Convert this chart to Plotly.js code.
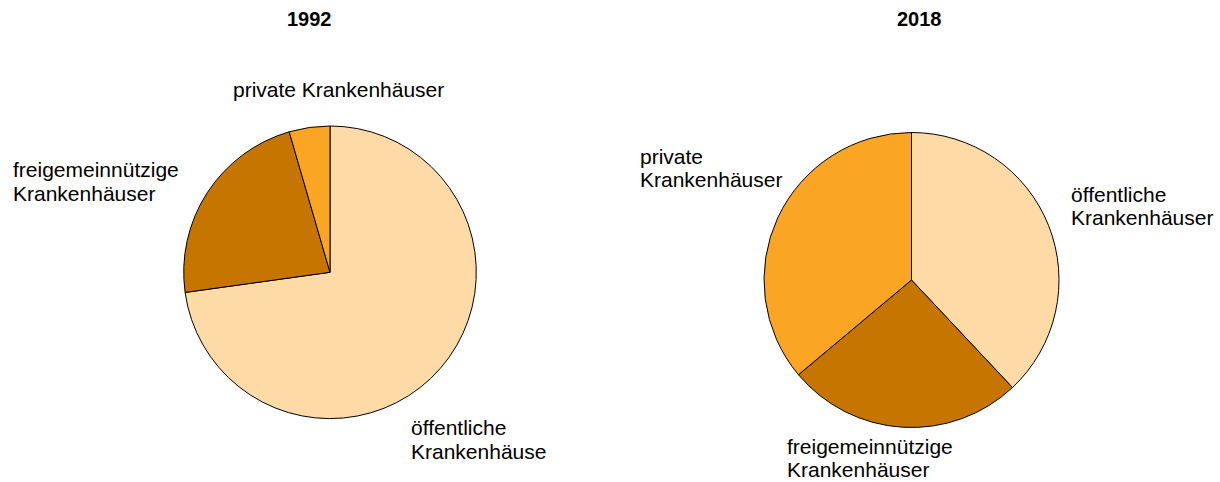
<!DOCTYPE html>
<html>
<head>
<meta charset="utf-8">
<script src="https://cdn.plot.ly/plotly-3.0.1.min.js"></script>
<style>html,body{margin:0;padding:0;background:#fff;}#chart{width:1220px;height:482px;}</style>
</head>
<body>
<div id="chart"></div>
<script>
// Data
const categories = ["öffentliche Krankenhäuser", "freigemeinnützige Krankenhäuser", "private Krankenhäuser"];
const values1992 = [72.8, 22.7, 4.5];
const values2018 = [38.0, 25.9, 36.1];
const years = ["1992", "2018"];
// label lines as shown in the chart
const labelLines1992 = [["öffentliche", "Krankenhäuse"], ["freigemeinnützige", "Krankenhäuser"], ["private Krankenhäuser"]];
const labelLines2018 = [["öffentliche", "Krankenhäuser"], ["freigemeinnützige", "Krankenhäuser"], ["private", "Krankenhäuser"]];

const colors = ["#FEDBA6", "#C67600", "#FAA523"];
const W = 1220, H = 482;
const px = x => x / W;
const py = y => 1 - y / H;
const FONT = "Liberation Sans, Arial, Helvetica, sans-serif";
const fs = 21;
const lineGap = 23.4;
const centerOff = 0.3465 * fs;

function pieTrace(vals, cx, cy, r) {
  return {
    type: "pie",
    labels: categories,
    values: vals,
    sort: false,
    direction: "clockwise",
    rotation: 0,
    textinfo: "none",
    hoverinfo: "skip",
    marker: {colors: colors, line: {color: "#000000", width: 1}},
    domain: {x: [px(cx - r), px(cx + r)], y: [py(cy + r), py(cy - r)]},
    showlegend: false
  };
}

// label anchor positions: [x, first baseline, xanchor]
const labelPos1992 = [[409, 435, "left"], [11, 177, "left"], [338, 96.7, "center"]];
const labelPos2018 = [[1069, 201.7, "left"], [785, 453.3, "left"], [638, 163.3, "left"]];
const titlePos = [[309.5, 26], [919, 26]];

const annotations = [];
function addLabels(lines, pos) {
  lines.forEach((ls, i) => {
    ls.forEach((t, j) => {
      annotations.push({
        text: t, showarrow: false, xref: "paper", yref: "paper",
        x: px(pos[i][0]), y: py(pos[i][1] + j * lineGap - centerOff),
        xanchor: pos[i][2], yanchor: "middle",
        font: {family: FONT, size: fs, color: "#000"}
      });
    });
  });
}
addLabels(labelLines1992, labelPos1992);
addLabels(labelLines2018, labelPos2018);
years.forEach((yr, i) => {
  annotations.push({
    text: "<b>" + yr + "</b>", showarrow: false, xref: "paper", yref: "paper",
    x: px(titlePos[i][0]), y: py(titlePos[i][1] - 0.3465 * 20),
    xanchor: "center", yanchor: "middle",
    font: {family: FONT, size: 20, color: "#000"}
  });
});

const data = [pieTrace(values1992, 330, 272.3, 146.3), pieTrace(values2018, 911.5, 280, 147.5)];
const layout = {
  width: W, height: H,
  margin: {l: 0, r: 0, t: 0, b: 0},
  paper_bgcolor: "#ffffff",
  plot_bgcolor: "#ffffff",
  hovermode: false,
  annotations: annotations,
  font: {family: FONT}
};
Plotly.newPlot("chart", data, layout, {displayModeBar: false, staticPlot: true});
</script>
</body>
</html>
